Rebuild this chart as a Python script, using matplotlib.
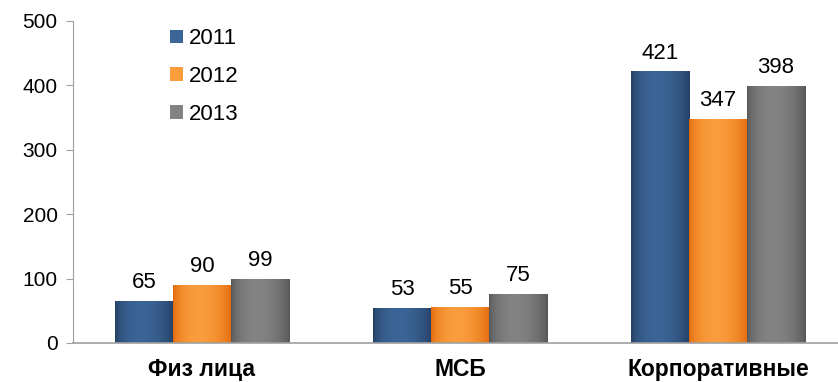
import numpy as np
import matplotlib
matplotlib.use("Agg")
import matplotlib.pyplot as plt
from matplotlib.colors import to_rgb
from matplotlib.patches import Patch

plt.rcParams["font.family"] = ["Liberation Sans", "DejaVu Sans"]

categories = ["Физ лица", "МСБ", "Корпоративные"]
years = ["2011", "2012", "2013"]
values_2011 = [65, 53, 421]
values_2012 = [90, 55, 347]
values_2013 = [99, 75, 398]
series = [values_2011, values_2012, values_2013]

# edge colour / centre colour for the cylinder-like shading
shades = [("#243f63", "#3b6597"),
          ("#e2680c", "#fa9d3c"),
          ("#575757", "#838383")]


def shaded_bar(ax, bar, dark, light):
    x0, y0 = bar.get_x(), bar.get_y()
    w, h = bar.get_width(), bar.get_height()
    t = np.linspace(0, 1, 64)
    prof = np.clip(np.sin(np.pi * t ** 0.85), 0, 1) ** 0.7
    d, l = np.array(to_rgb(dark)), np.array(to_rgb(light))
    img = d[None, :] + (l - d)[None, :] * prof[:, None]
    img = img[None, :, :]
    ax.imshow(img, extent=[x0, x0 + w, y0, y0 + h], aspect="auto",
              interpolation="bilinear", zorder=2)
    bar.set_facecolor("none")


fig = plt.figure(figsize=(8.38, 3.82), dpi=100)
ax = fig.add_axes([73 / 838, 39 / 382, 774 / 838, 322 / 382])

x = np.arange(len(categories))
bw = 0.225
for i, (vals, (dark, light)) in enumerate(zip(series, shades)):
    bars = ax.bar(x + (i - 1) * bw, vals, bw, color="none", zorder=3)
    for b, v in zip(bars, vals):
        shaded_bar(ax, b, dark, light)
        ax.text(b.get_x() + bw / 2, v + 13, str(v), ha="center", va="bottom",
                fontsize=16, color="black")

ax.set_xlim(-0.5, 2.5)
ax.set_ylim(0, 500)
ax.set_yticks([0, 100, 200, 300, 400, 500])
ax.tick_params(axis="y", labelsize=15, length=5, color="#a0a0a0", pad=6)
ax.set_xticks(x)
ax.set_xticklabels([])
ax.tick_params(axis="x", length=0)
for xi, c in zip(x, categories):
    ax.text(xi, -24, c, ha="center", va="top", fontsize=16.5,
            fontweight="bold", clip_on=False)

for s in ["top", "right"]:
    ax.spines[s].set_visible(False)
ax.spines["left"].set_color("#a0a0a0")
ax.spines["bottom"].set_color("#a0a0a0")
ax.spines["bottom"].set_linewidth(1.2)

handles = [Patch(facecolor=l, edgecolor="none") for _, l in shades]
ax.legend(handles, years, loc="upper left", bbox_to_anchor=(0.1, 1.04),
          frameon=False, fontsize=16, handlelength=0.55, handleheight=0.55,
          handletextpad=0.3, labelspacing=0.76)

fig.savefig("out.png", dpi=100)
